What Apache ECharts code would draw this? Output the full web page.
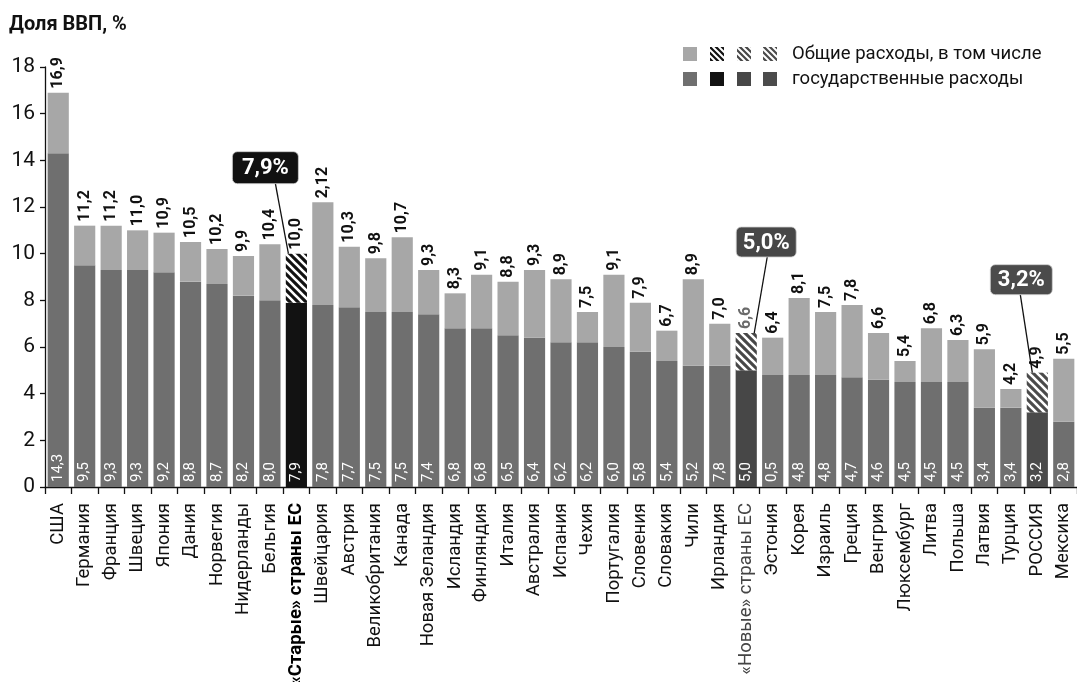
<!DOCTYPE html>
<html lang="ru">
<head>
<meta charset="utf-8">
<title>Расходы на здравоохранение, доля ВВП</title>
<script src="https://cdn.jsdelivr.net/npm/echarts@6/dist/echarts.min.js"></script>
<style>
  html, body { margin: 0; padding: 0; background: #fff; }
  #chart { width: 1077px; height: 682px; }
</style>
</head>
<body>
<div id="chart"></div>
<script>
// Countries and country groups, left to right
const categories = [
  'США', 'Германия', 'Франция', 'Швеция', 'Япония', 'Дания', 'Норвегия', 'Нидерланды', 'Бельгия',
  '«Старые» страны ЕС', 'Швейцария', 'Австрия', 'Великобритания', 'Канада', 'Новая Зеландия',
  'Исландия', 'Финляндия', 'Италия', 'Австралия', 'Испания', 'Чехия', 'Португалия', 'Словения',
  'Словакия', 'Чили', 'Ирландия', '«Новые» страны ЕС', 'Эстония', 'Корея', 'Израиль', 'Греция',
  'Венгрия', 'Люксембург', 'Литва', 'Польша', 'Латвия', 'Турция', 'РОССИЯ', 'Мексика'
];

// Total health spending, % of GDP
const totalValues = [
  16.9, 11.2, 11.2, 11.0, 10.9, 10.5, 10.2, 9.9, 10.4,
  10.0, 12.2, 10.3, 9.8, 10.7, 9.3,
  8.3, 9.1, 8.8, 9.3, 8.9, 7.5, 9.1, 7.9,
  6.7, 8.9, 7.0, 6.6, 6.4, 8.1, 7.5, 7.8,
  6.6, 5.4, 6.8, 6.3, 5.9, 4.2, 4.9, 5.5
];

// Public (government) health spending, % of GDP
const govValues = [
  14.3, 9.5, 9.3, 9.3, 9.2, 8.8, 8.7, 8.2, 8.0,
  7.9, 7.8, 7.7, 7.5, 7.5, 7.4,
  6.8, 6.8, 6.5, 6.4, 6.2, 6.2, 6.0, 5.8,
  5.4, 5.2, 5.2, 5.0, 4.8, 4.8, 4.8, 4.7,
  4.6, 4.5, 4.5, 4.5, 3.4, 3.4, 3.2, 2.8
];

// Value labels as they are printed in the source publication
const printedTotal = { 'Швейцария': '2,12' };
const printedGov = { 'Ирландия': '7,8', 'Эстония': '0,5' };

// Highlighted groups and the callouts pointing at them
const calloutCategories = ['«Старые» страны ЕС', '«Новые» страны ЕС', 'РОССИЯ'];

const yTicks = { min: 0, max: 18, step: 2 };

// ---- styling ----
const FONT = "'Liberation Sans Narrow', 'Roboto', 'Liberation Sans', sans-serif";
const C_TOTAL = '#a7a7a7';
const C_GOV = '#6f6f6f';
const C_OLD = '#121212';
const C_NEW = '#474747';
const C_RUS = '#4b4b4b';

function hatch(bg, size) {
  size = size || 8;
  const cv = document.createElement('canvas');
  cv.width = size; cv.height = size;
  const ctx = cv.getContext('2d');
  ctx.fillStyle = bg;
  ctx.fillRect(0, 0, size, size);
  ctx.strokeStyle = '#ffffff';
  ctx.lineWidth = size * 0.33;
  ctx.beginPath();
  // "\" stripes, tiled seamlessly
  ctx.moveTo(-size, 0); ctx.lineTo(size, 2 * size);
  ctx.moveTo(0, 0); ctx.lineTo(size, size);
  ctx.moveTo(0, -size); ctx.lineTo(2 * size, size);
  ctx.stroke();
  return cv;
}

const groupStyle = {
  '«Старые» страны ЕС': { gov: C_OLD, top: { image: hatch(C_OLD), repeat: 'repeat' }, bold: true, topLabel: '#111' },
  '«Новые» страны ЕС': { gov: C_NEW, top: { image: hatch(C_NEW), repeat: 'repeat' }, bold: false, topLabel: '#6a6a6a' },
  'РОССИЯ': { gov: C_RUS, top: { image: hatch(C_RUS), repeat: 'repeat' }, bold: false, topLabel: '#111' }
};

const fmt = v => v.toFixed(1).replace('.', ',');

const govData = categories.map((c, i) => ({
  value: govValues[i],
  itemStyle: { color: groupStyle[c] ? groupStyle[c].gov : C_GOV }
}));

const restData = categories.map((c, i) => ({
  value: +(totalValues[i] - govValues[i]).toFixed(2),
  itemStyle: { color: groupStyle[c] ? groupStyle[c].top : C_TOTAL },
  label: { color: groupStyle[c] ? groupStyle[c].topLabel : '#111' }
}));

// Callout boxes: placement relative to the top of the bar they point at
const calloutLayout = {
  '«Старые» страны ЕС': { dx: -31, dy: -86, w: 66, h: 32, lineFrom: 10, lineTo: -8, fill: '#111111' },
  '«Новые» страны ЕС': { dx: 20, dy: -91, w: 60, h: 30, lineFrom: 1, lineTo: 8, fill: '#474747' },
  'РОССИЯ': { dx: -16, dy: -93, w: 62, h: 30, lineFrom: -1, lineTo: -5, fill: '#4b4b4b' }
};

const calloutData = calloutCategories.map(c => {
  const i = categories.indexOf(c);
  return [i, totalValues[i], fmt(govValues[i]) + '%', c];
});

const chart = echarts.init(document.getElementById('chart'), null, { renderer: 'canvas' });

const option = {
  backgroundColor: '#ffffff',
  animation: false,
  textStyle: { fontFamily: FONT },
  grid: { left: 45, right: 0, top: 67, bottom: 195, containLabel: false, outerBoundsMode: 'none' },
  xAxis: {
    type: 'category',
    data: categories,
    boundaryGap: true,
    axisLine: { show: true, lineStyle: { color: '#111', width: 1.3 } },
    axisTick: { show: true, length: 7, lineStyle: { color: '#111', width: 1.3 } },
    axisLabel: {
      interval: 0,
      rotate: 90,
      margin: 16,
      fontSize: 18.5,
      fontFamily: FONT,
      color: '#111',
      formatter: v => {
        const g = groupStyle[v];
        if (g && g.bold) return '{b|' + v + '}';
        if (v === '«Новые» страны ЕС') return '{n|' + v + '}';
        return v;
      },
      rich: {
        b: { fontSize: 18.5, fontWeight: 'bold', fontFamily: FONT, color: '#000' },
        n: { fontSize: 18.5, fontFamily: FONT, color: '#444' }
      }
    }
  },
  yAxis: {
    type: 'value',
    min: yTicks.min,
    max: yTicks.max,
    interval: yTicks.step,
    splitLine: { show: false },
    axisLine: { show: true, lineStyle: { color: '#111', width: 1.3 } },
    axisTick: { show: true, length: 5, lineStyle: { color: '#111', width: 1.3 } },
    axisLabel: { fontSize: 21, color: '#111', margin: 10, fontFamily: FONT }
  },
  series: [
    {
      name: 'государственные расходы',
      type: 'bar',
      stack: 'total',
      barCategoryGap: '20%',
      data: govData,
      label: {
        show: true,
        position: 'insideBottom',
        rotate: 90,
        align: 'left',
        verticalAlign: 'middle',
        distance: 5,
        color: '#ffffff',
        fontSize: 15,
        fontFamily: FONT,
        formatter: p => printedGov[p.name] || fmt(p.value)
      }
    },
    {
      name: 'Общие расходы, в том числе',
      type: 'bar',
      stack: 'total',
      barCategoryGap: '20%',
      data: restData,
      label: {
        show: true,
        position: 'top',
        rotate: 90,
        align: 'left',
        verticalAlign: 'middle',
        distance: 4,
        fontSize: 16,
        fontWeight: 'bold',
        fontFamily: FONT,
        formatter: p => printedTotal[p.name] || fmt(totalValues[p.dataIndex])
      }
    },
    {
      name: 'callouts',
      type: 'custom',
      z: 10,
      data: calloutData,
      encode: { x: 0, y: 1 },
      renderItem: (params, api) => {
        const cat = calloutData[params.dataIndex][3];
        const L = calloutLayout[cat];
        const top = api.coord([api.value(0), api.value(1)]);
        const cx = top[0] + L.dx;
        const cy = top[1] + L.dy;
        return {
          type: 'group',
          children: [
            {
              type: 'line',
              shape: { x1: cx + L.lineFrom, y1: cy + L.h / 2, x2: top[0] + L.lineTo, y2: top[1] },
              style: { stroke: '#111', lineWidth: 1.3 }
            },
            {
              type: 'rect',
              shape: { x: cx - L.w / 2, y: cy - L.h / 2, width: L.w, height: L.h, r: 5 },
              style: { fill: L.fill, stroke: '#d0d0d0', lineWidth: 0.8 }
            },
            {
              type: 'text',
              x: cx, y: cy + 1,
              style: {
                text: calloutData[params.dataIndex][2],
                fill: '#ffffff',
                font: 'bold 22px ' + FONT,
                align: 'center',
                verticalAlign: 'middle'
              }
            }
          ]
        };
      }
    }
  ],
  graphic: [
    {
      type: 'text',
      left: 9, top: 15,
      style: { text: 'Доля ВВП, %', font: 'bold 20px ' + FONT, fill: '#111' }
    },
    // legend swatches, upper row: total spending
    { type: 'rect', shape: { x: 683, y: 47, width: 14, height: 14 }, style: { fill: C_TOTAL } },
    { type: 'rect', shape: { x: 710, y: 47, width: 14, height: 14 }, style: { fill: { image: hatch(C_OLD, 6), repeat: 'repeat' } } },
    { type: 'rect', shape: { x: 737, y: 47, width: 14, height: 14 }, style: { fill: { image: hatch(C_NEW, 6), repeat: 'repeat' } } },
    { type: 'rect', shape: { x: 763, y: 47, width: 14, height: 14 }, style: { fill: { image: hatch(C_RUS, 6), repeat: 'repeat' } } },
    { type: 'text', left: 792, top: 45, style: { text: 'Общие расходы, в том числе', font: '18.5px ' + FONT, fill: '#111' } },
    // legend swatches, lower row: public spending
    { type: 'rect', shape: { x: 683, y: 72, width: 14, height: 14 }, style: { fill: C_GOV } },
    { type: 'rect', shape: { x: 710, y: 72, width: 14, height: 14 }, style: { fill: C_OLD } },
    { type: 'rect', shape: { x: 737, y: 72, width: 14, height: 14 }, style: { fill: C_NEW } },
    { type: 'rect', shape: { x: 763, y: 72, width: 14, height: 14 }, style: { fill: C_RUS } },
    { type: 'text', left: 792, top: 70, style: { text: 'государственные расходы', font: '18.5px ' + FONT, fill: '#111' } }
  ]
};

chart.setOption(option);
</script>
</body>
</html>
